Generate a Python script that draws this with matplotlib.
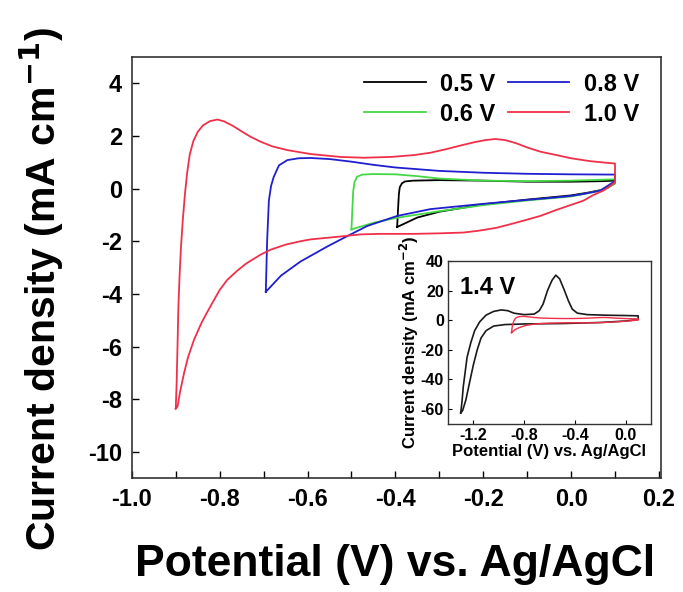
import matplotlib
matplotlib.use("Agg")
import matplotlib.pyplot as plt
from matplotlib.ticker import FuncFormatter

plt.rcParams['font.family'] = ['Liberation Sans', 'DejaVu Sans']
plt.rcParams['font.weight'] = 'bold'
plt.rcParams['axes.unicode_minus'] = False

# ---- cyclic voltammograms, closed loops (potential in V, current density in mA cm^-1) ----
# 0.5 V window
v_05 = [-0.396, -0.394, -0.392, -0.390, -0.385, -0.378, -0.36, -0.3, -0.2, -0.1, 0.0, 0.07, 0.1,
        0.1, 0.085, 0.07, 0.04, 0.0, -0.1, -0.2, -0.3, -0.35, -0.396]
j_05 = [-1.46, -0.8, -0.2, 0.05, 0.2, 0.27, 0.3, 0.32, 0.3, 0.26, 0.26, 0.28, 0.3,
        0.2, 0.05, -0.05, -0.15, -0.26, -0.42, -0.6, -0.88, -1.1, -1.46]

# 0.6 V window
v_06 = [-0.5, -0.498, -0.496, -0.493, -0.487, -0.475, -0.45, -0.4, -0.35, -0.3, -0.2, -0.1, 0.0, 0.1,
        0.1, 0.085, 0.07, 0.04, 0.0, -0.1, -0.2, -0.3, -0.4, -0.45, -0.5]
j_06 = [-1.55, -0.8, -0.1, 0.25, 0.45, 0.53, 0.55, 0.54, 0.47, 0.38, 0.3, 0.28, 0.3, 0.35,
        0.2, 0.04, -0.06, -0.17, -0.3, -0.45, -0.63, -0.86, -1.12, -1.3, -1.55]

# 0.8 V window
v_08 = [-0.695, -0.692, -0.688, -0.683, -0.677, -0.665, -0.646, -0.62, -0.593, -0.55, -0.5, -0.45,
        -0.4, -0.3, -0.2, -0.1, 0.0, 0.1,
        0.1, 0.096, 0.066, 0.03, 0.0, -0.05, -0.1, -0.2, -0.32, -0.396, -0.464, -0.517,
        -0.555, -0.616, -0.66, -0.695]
j_08 = [-3.92, -2.0, -0.46, 0.1, 0.44, 0.88, 1.08, 1.15, 1.16, 1.12, 1.02, 0.9,
        0.8, 0.67, 0.6, 0.56, 0.54, 0.53,
        0.35, 0.24, -0.08, -0.2, -0.28, -0.36, -0.43, -0.58, -0.78, -1.04, -1.42, -1.87,
        -2.2, -2.77, -3.3, -3.92]

# 1.0 V window
v_10 = [-0.9, -0.898, -0.896, -0.894, -0.891, -0.888, -0.884, -0.879, -0.874, -0.868, -0.86,
        -0.85, -0.838, -0.822, -0.805, -0.79, -0.77, -0.75, -0.73, -0.707, -0.68, -0.646,
        -0.593, -0.525, -0.472, -0.41, -0.358, -0.32, -0.283, -0.25, -0.22, -0.195, -0.173,
        -0.15, -0.125, -0.1, -0.07, -0.033, 0.0, 0.043, 0.08, 0.1,
        0.1, 0.085, 0.073, 0.05, 0.028, 0.0, -0.035, -0.07, -0.1, -0.135, -0.17, -0.21, -0.245,
        -0.3, -0.358, -0.434, -0.48, -0.525, -0.593, -0.616, -0.65, -0.684, -0.707, -0.74,
        -0.76, -0.783, -0.8, -0.82, -0.84, -0.858, -0.872, -0.881, -0.89, -0.896, -0.9]
j_10 = [-8.35, -7.4, -6.0, -4.5, -3.2, -2.2, -1.2, -0.2, 0.6, 1.3, 1.8,
        2.15, 2.4, 2.56, 2.62, 2.55, 2.38, 2.17, 1.97, 1.78, 1.6, 1.46,
        1.31, 1.2, 1.17, 1.2, 1.27, 1.36, 1.5, 1.64, 1.76, 1.84, 1.88,
        1.84, 1.72, 1.56, 1.4, 1.27, 1.15, 1.04, 0.98, 0.95,
        0.24, 0.05, -0.08, -0.25, -0.46, -0.62, -0.82, -1.04, -1.18, -1.34, -1.49, -1.6, -1.67,
        -1.7, -1.72, -1.72, -1.74, -1.82, -1.93, -2.0, -2.13, -2.32, -2.51, -2.85,
        -3.12, -3.47, -3.85, -4.44, -5.05, -5.72, -6.4, -7.0, -7.7, -8.28, -8.35]

# 1.4 V window (inset, mA cm^-2)
v_14 = [-1.30, -1.29, -1.28, -1.265, -1.25, -1.22, -1.19, -1.15, -1.1, -1.04, -0.98, -0.93,
        -0.88, -0.8, -0.72, -0.68, -0.65, -0.616, -0.58, -0.55, -0.52, -0.486, -0.45, -0.42,
        -0.38, -0.3, -0.143, 0.0, 0.1,
        0.1, 0.0, -0.2, -0.5, -0.8, -0.95, -1.04, -1.1, -1.14, -1.17, -1.2, -1.23, -1.26,
        -1.285, -1.30]
j_14 = [-62.6, -55, -45, -35, -25, -15, -7, -1, 3.5, 6, 7, 6.5,
        4.8, 3.8, 4.2, 6.5, 11, 20, 27, 30.5, 28, 21, 13, 7.5,
        4.8, 3.8, 3.4, 3.2, 3.0,
        0.5, -0.5, -1.5, -2.2, -2.5, -2.9, -3.9, -7, -12, -20, -30, -42, -54,
        -61, -62.6]

series = [("0.5 V", v_05, j_05, "#000000"),
          ("0.6 V", v_06, j_06, "#44d844"),
          ("0.8 V", v_08, j_08, "#1f1fcf"),
          ("1.0 V", v_10, j_10, "#f0304a")]

main_xticks = [-1.0, -0.9, -0.8, -0.7, -0.6, -0.5, -0.4, -0.3, -0.2, -0.1, 0.0, 0.1, 0.2]
main_yticks = [-10, -8, -6, -4, -2, 0, 2, 4]
inset_xticks = [-1.2, -0.8, -0.4, 0.0]
inset_yticks = [-60, -40, -20, 0, 20, 40]

fig = plt.figure(figsize=(6.83, 5.92), dpi=100)
ax = fig.add_axes([0.193, 0.192, 0.775, 0.712])

for label, v, j, c in series:
    ax.plot(v, j, color=c, lw=1.3, label=label)

ax.set_xlim(-1.0, 0.205)
ax.set_ylim(-11, 5)
ax.set_xticks(main_xticks)
ax.xaxis.set_major_formatter(FuncFormatter(
    lambda x, p: f"{x:.1f}" if abs(round(x * 10)) % 2 == 0 else ""))
ax.set_yticks(main_yticks)
ax.tick_params(direction='in', length=5, width=1.0, labelsize=17, pad=7)
for lab in ax.get_xticklabels() + ax.get_yticklabels():
    lab.set_fontweight('bold')
for s in ax.spines.values():
    s.set_linewidth(1.2)
    s.set_color('#333333')

ax.set_xlabel("Potential (V) vs. Ag/AgCl", fontsize=32, fontweight='bold')
ax.xaxis.set_label_coords(0.498, -0.155)
ax.set_ylabel("Current density (mA cm$^{\\mathbf{-1}}$)", fontsize=29.5, fontweight='bold')
ax.yaxis.set_label_coords(-0.125, 0.45)

ax.legend(ncol=2, loc='upper right', bbox_to_anchor=(0.998, 1.013), frameon=False,
          prop={'weight': 'bold', 'size': 17},
          handlelength=2.6, handletextpad=0.6, columnspacing=0.55, labelspacing=0.3)

# inset with the 1.4 V window
ins = fig.add_axes([0.656, 0.284, 0.297, 0.275])
ins.plot(v_14, j_14, color="#1a1a1a", lw=1.2)
ins.plot(v_10, j_10, color="#f0304a", lw=1.0)
ins.set_xlim(-1.4, 0.2)
ins.set_ylim(-70, 40)
ins.set_xticks(inset_xticks)
ins.set_yticks(inset_yticks)
ins.xaxis.set_major_formatter(FuncFormatter(lambda x, p: f"{x:.1f}"))
ins.tick_params(direction='in', length=3, width=0.8, labelsize=11.5, pad=3)
for lab in ins.get_xticklabels() + ins.get_yticklabels():
    lab.set_fontweight('bold')
for s in ins.spines.values():
    s.set_linewidth(1.0)
    s.set_color('#333333')
ins.set_xlabel("Potential (V) vs. Ag/AgCl", fontsize=12, fontweight='bold', labelpad=1)
ins.set_ylabel("Current density (mA cm$^{\\mathbf{-2}}$)", fontsize=12, fontweight='bold', labelpad=0)
ins.text(0.06, 0.84, "1.4 V", transform=ins.transAxes, fontsize=17, fontweight='bold',
         va='center', ha='left')

fig.savefig("out.png", dpi=100)
